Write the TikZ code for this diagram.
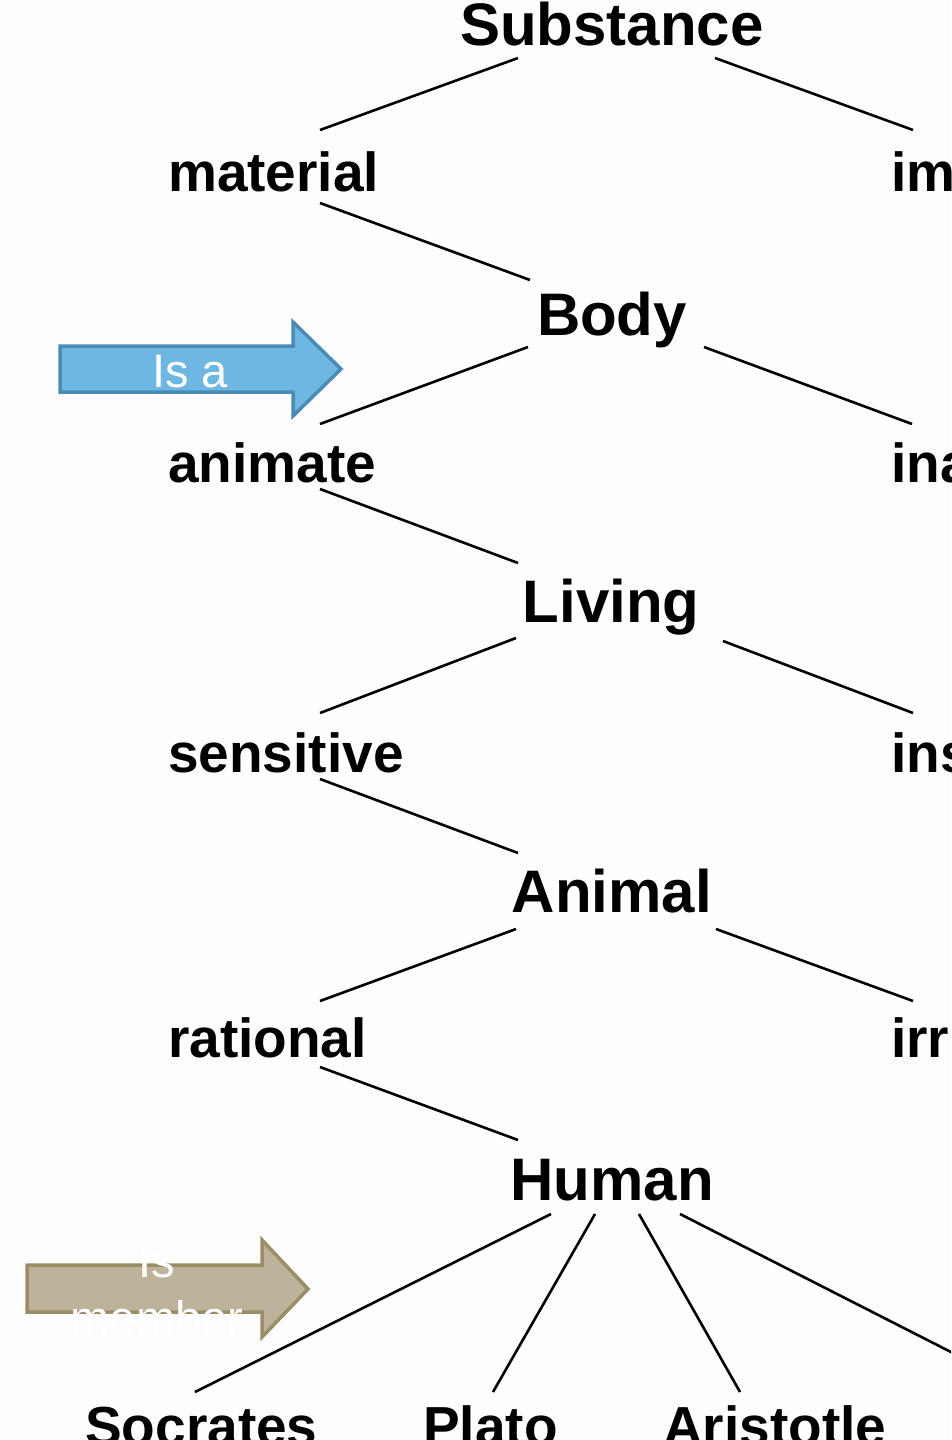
\documentclass[tikz,border=0pt]{standalone}
\usepackage{fontspec}
\setmainfont{Liberation Sans}
\usetikzlibrary{calc}
\definecolor{bgc}{HTML}{FCFDFC}
\definecolor{bluefill}{HTML}{6FB7E3}
\definecolor{blueline}{HTML}{4C8BB3}
\definecolor{tanfill}{HTML}{BDB39A}
\definecolor{tanline}{HTML}{9A8D68}
\begin{document}
\begin{tikzpicture}[x=1pt,y=-1pt,
  big/.style={font=\fontsize{60}{60}\selectfont\bfseries, inner sep=0pt, anchor=base},
  lab/.style={font=\fontsize{55}{55}\selectfont\bfseries, inner sep=0pt, anchor=base west},
  person/.style={font=\fontsize{55}{55}\selectfont\bfseries, inner sep=0pt, anchor=base west},
  link/.style={line width=2.6pt, black},
  arrowtext/.style={font=\fontsize{47}{57}\selectfont, text=white, inner sep=0pt, align=center}]
\useasboundingbox (0,0) rectangle (951,1440);
\clip (0,0) rectangle (951,1440);
\fill[bgc] (0,0) rectangle (951,1440);

% labels
\node[big] (Substance) at (612,45) {Substance};
\node[lab] (material) at (168,191) {material};
\node[lab] (im) at (891,191) {im};
\node[big] (Body) at (612,335) {Body};
\node[lab] (animate) at (168,482) {animate};
\node[lab] (ina) at (891,482) {ina};
\node[big] (Living) at (611,622) {Living};
\node[lab] (sensitive) at (168,772) {sensitive};
\node[lab] (ins) at (891,772) {ins};
\node[big] (Animal) at (612,912) {Animal};
\node[lab] (rational) at (168,1057) {rational};
\node[lab] (irr) at (891,1057) {irr};
\node[big] (Human) at (612,1200) {Human};
\node[person] (Socrates) at (85,1445) {Socrates};
\node[person] (Plato) at (423,1445) {Plato};
\node[person] (Aristotle) at (663,1445) {Aristotle};
\coordinate (offright) at (1000,1377);

% connectors
\draw[link] ($(Substance.base)+(-94,13)$) -- ($(material.base west)+(152,-61)$);
\draw[link] ($(Substance.base)+(103,13)$) -- ($(im.base west)+(22,-61)$);
\draw[link] ($(material.base west)+(152,12)$) -- ($(Body.base)+(-82,-55)$);
\draw[link] ($(Body.base)+(-84,12)$) -- ($(animate.base west)+(152,-58)$);
\draw[link] ($(Body.base)+(92,12)$) -- ($(ina.base west)+(21,-58)$);
\draw[link] ($(animate.base west)+(152,7)$) -- ($(Living.base)+(-93,-59)$);
\draw[link] ($(Living.base)+(-95,16)$) -- ($(sensitive.base west)+(152,-59)$);
\draw[link] ($(Living.base)+(112,19)$) -- ($(ins.base west)+(22,-59)$);
\draw[link] ($(sensitive.base west)+(152,7)$) -- ($(Animal.base)+(-94,-59)$);
\draw[link] ($(Animal.base)+(-96,17)$) -- ($(rational.base west)+(152,-56)$);
\draw[link] ($(Animal.base)+(104,17)$) -- ($(irr.base west)+(22,-56)$);
\draw[link] ($(rational.base west)+(152,10)$) -- ($(Human.base)+(-94,-60)$);
\draw[link] ($(Human.base)+(-61,14)$) -- ($(Socrates.base west)+(110,-53)$);
\draw[link] ($(Human.base)+(-17,14)$) -- ($(Plato.base west)+(70,-53)$);
\draw[link] ($(Human.base)+(27,14)$) -- ($(Aristotle.base west)+(77,-53)$);
\draw[link] ($(Human.base)+(68,14)$) -- (offright);

% block arrows
\draw[fill=bluefill, draw=blueline, line width=3.5pt, line join=miter]
  (60,346) -- (293,346) -- (293,322) -- (341,369) -- (293,416) -- (293,392) -- (60,392) -- cycle;
\node[arrowtext, anchor=base] (isa) at (190,387) {Is a};
\draw[fill=tanfill, draw=tanline, line width=3.5pt, line join=miter]
  (27,1265) -- (262,1265) -- (262,1240) -- (308,1289) -- (262,1337) -- (262,1312) -- (27,1312) -- cycle;
\node[arrowtext] (ismember) at (157,1290) {Is\\member};
\end{tikzpicture}
\end{document}
